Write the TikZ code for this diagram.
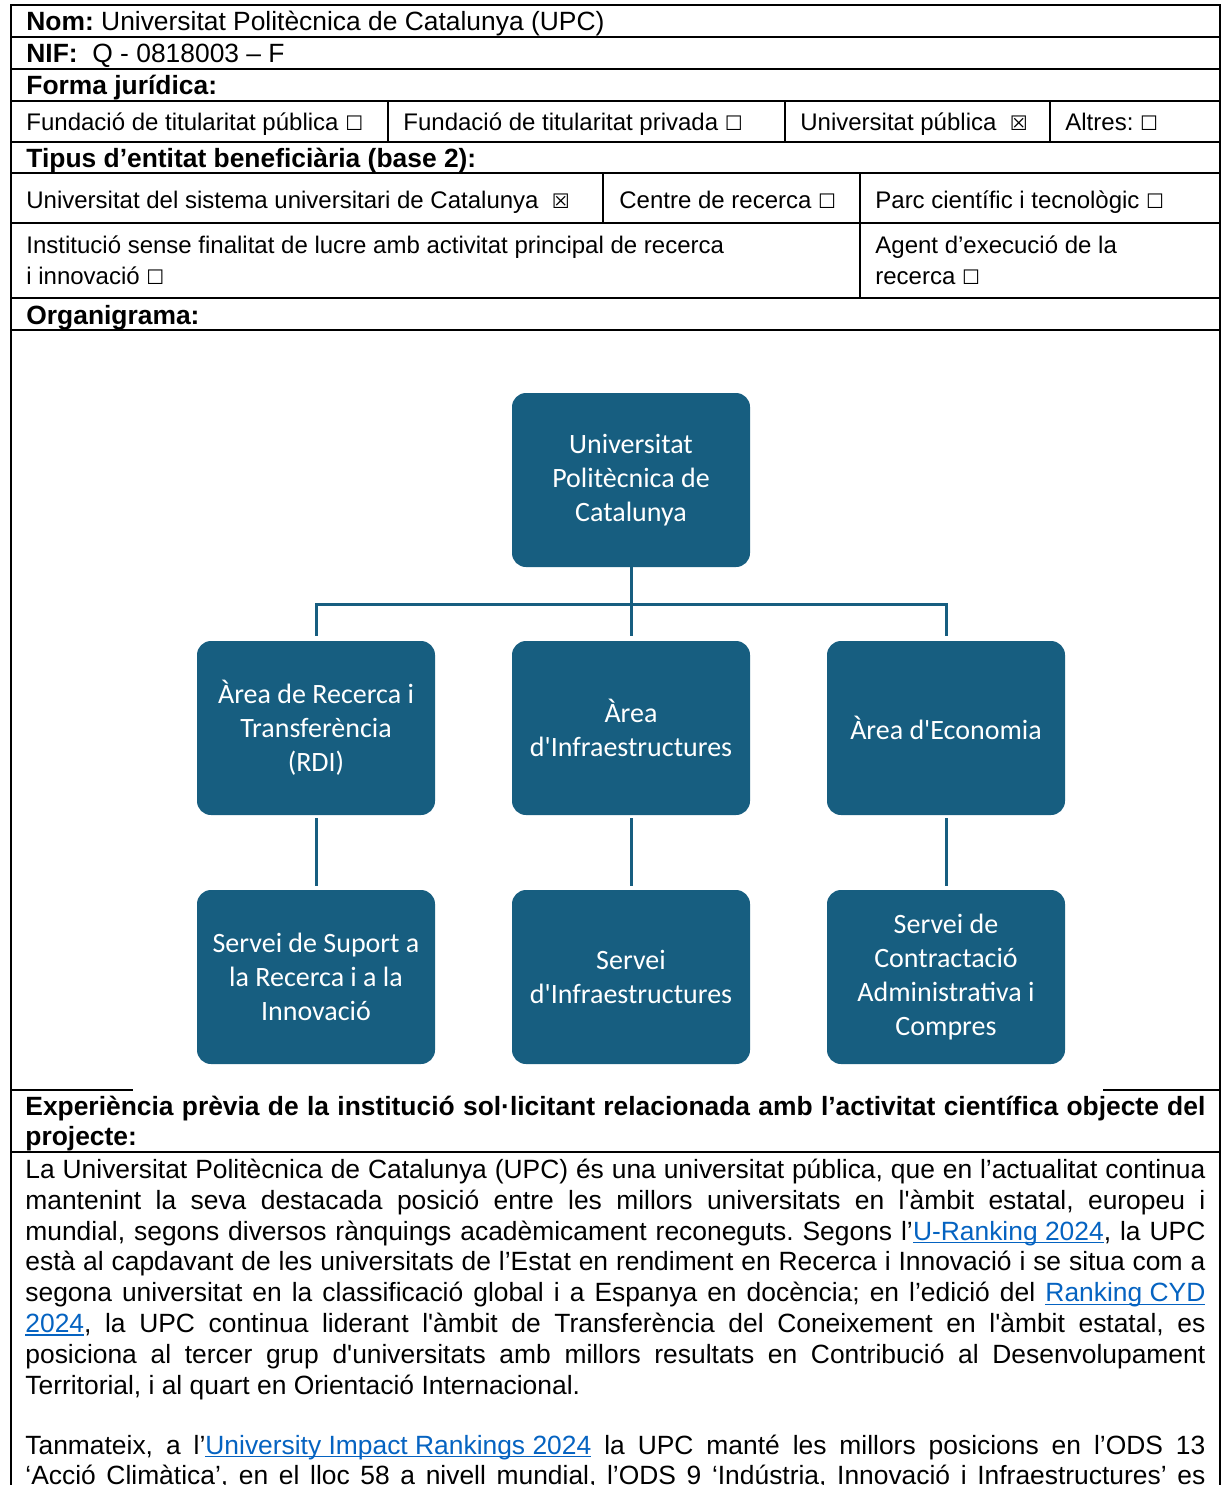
\documentclass[tikz,border=0pt]{standalone}
\usepackage{fontspec}
\setmainfont{Liberation Sans}
\newfontfamily\arialfont{Liberation Sans}
\newfontfamily\orgfont{Carlito}
\newfontfamily\symfont{DejaVu Sans}
\definecolor{upcblue}{HTML}{175E80}
\definecolor{linkblue}{HTML}{0563C1}
\newcommand{\nobox}{{\symfont\fontsize{10}{12}\selectfont ☐}}
\newcommand{\yesbox}{{\symfont\fontsize{10}{12}\selectfont ☒}}
\newcommand{\lnk}[1]{\textcolor{linkblue}{\setbox0\hbox{#1}\rlap{\rule[-1.5pt]{\wd0}{0.6pt}}\box0}}
\begin{document}
\frenchspacing
\begin{tikzpicture}
  [x=0.5pt,y=-0.5pt,
   every node/.style={inner sep=0pt,font=\arialfont\fontsize{12}{15.5}\selectfont},
   cell/.style={anchor=base west},
   head/.style={anchor=base west,font=\arialfont\fontsize{13.2}{15}\selectfont},
   para/.style={anchor=base west,text width=590pt,align=justify},
   orgbox/.style={fill=upcblue,rounded corners=7pt,minimum width=119pt,minimum height=87pt,
     text=white,align=center,font=\orgfont\fontsize{14}{17}\selectfont},
   orgline/.style={upcblue,line width=1.5pt},
   rule/.style={line width=0.8pt}]
\useasboundingbox (0,0) rectangle (1221,1485);
\clip (0,0) rectangle (1221,1485);

\draw[rule] (11,1485) -- (11,5) -- (1220,5) -- (1220,1485);
\foreach \y in {37,69,101,142,173,223,298,330,1152}
  \draw[rule] (11,\y) -- (1220,\y);
\draw[rule] (11,1090) -- (133,1090);
\draw[rule] (1103,1090) -- (1220,1090);
\foreach \x in {388,785,1050}
  \draw[rule] (\x,101) -- (\x,142);
\draw[rule] (603,173) -- (603,223);
\draw[rule] (860,173) -- (860,298);

\node (nom)[head] at (26,30) {\textbf{Nom:} Universitat Politècnica de Catalunya (UPC)};
\node (nif)[head] at (26,62) {\textbf{NIF:}\ \ Q - 0818003 – F};
\node (forma)[head] at (26,94) {\textbf{Forma jurídica:}};
\node (fpub)[cell] at (26,130.5) {Fundació de titularitat pública \nobox};
\node (fpriv)[cell] at (403,130.5) {Fundació de titularitat privada \nobox};
\node (upub)[cell] at (800,130.5) {Universitat pública\ \ \yesbox};
\node (altres)[cell] at (1065,130.5) {Altres: \nobox};
\node (tipus)[head] at (26,167) {\textbf{Tipus d’entitat beneficiària (base 2):}};
\node (sist)[cell] at (26,208.5) {Universitat del sistema universitari de Catalunya\ \ \yesbox};
\node (centre)[cell] at (619,208.5) {Centre de recerca \nobox};
\node (parc)[cell] at (875,208.5) {Parc científic i tecnològic \nobox};
\node (inst)[cell,align=left] at (26,284.5) {Institució sense finalitat de lucre amb activitat principal de recerca\\i innovació \nobox};
\node (agent)[cell,align=left] at (875,284.5) {Agent d’execució de la\\recerca \nobox};
\node (organ)[head] at (26,324) {\textbf{Organigrama:}};

\node (upc)[orgbox] at (631,480) {Universitat\\Politècnica de\\Catalunya};
\node (rdi)[orgbox] at (316,728) {Àrea de Recerca i\\Transferència\\(RDI)};
\node (infra)[orgbox] at (631,728) {Àrea\\d'Infraestructures};
\node (eco)[orgbox] at (946,728) {Àrea d'Economia};
\node (sgri)[orgbox] at (316,977) {Servei de Suport a\\la Recerca i a la\\Innovació};
\node (sinf)[orgbox] at (631,977) {Servei\\d'Infraestructures};
\node (scca)[orgbox] at (946,977) {Servei de\\Contractació\\Administrativa i\\Compres};

\coordinate (bar) at (631,604);
\draw[orgline,shorten >=2.5pt] (upc) -- (infra);
\draw[orgline,shorten <=2.5pt,shorten >=2.5pt] (rdi.north) |- (bar) -| (eco.north);
\foreach \a/\b in {rdi/sgri,infra/sinf,eco/scca}
  \draw[orgline,shorten <=1.5pt,shorten >=2pt] (\a) -- (\b);

\node (exp)[para,font=\arialfont\bfseries\fontsize{13.2}{15}\selectfont] at (25,1115.5)
  {Experiència prèvia de la institució sol·licitant relacionada amb l’activitat científica objecte del\linebreak projecte:};
\node (par1)[para,font=\arialfont\fontsize{13.2}{15.4}\selectfont] at (25,1178.5)
  {La Universitat Politècnica de Catalunya (UPC) és una universitat pública, que en l’actualitat continua\linebreak
   mantenint la seva destacada posició entre les millors universitats en l'àmbit estatal, europeu i\linebreak
   mundial, segons diversos rànquings acadèmicament reconeguts. Segons l’\lnk{U-Ranking 2024}, la UPC\linebreak
   està al capdavant de les universitats de l’Estat en rendiment en Recerca i Innovació i se situa com a\linebreak
   segona universitat en la classificació global i a Espanya en docència; en l’edició del \lnk{Ranking CYD}\linebreak
   \lnk{2024}, la UPC continua liderant l'àmbit de Transferència del Coneixement en l'àmbit estatal, es\linebreak
   posiciona al tercer grup d'universitats amb millors resultats en Contribució al Desenvolupament\linebreak
   Territorial, i al quart en Orientació Internacional.};
\node (par2)[para,font=\arialfont\fontsize{13.2}{15.4}\selectfont] at (25,1454)
  {Tanmateix, a l’\lnk{University Impact Rankings 2024} la UPC manté les millors posicions en l’ODS 13\linebreak
   ‘Acció Climàtica’, en el lloc 58 a nivell mundial, l’ODS 9 ‘Indústria, Innovació i Infraestructures’ es\linebreak\mbox{}};
\end{tikzpicture}
\end{document}
